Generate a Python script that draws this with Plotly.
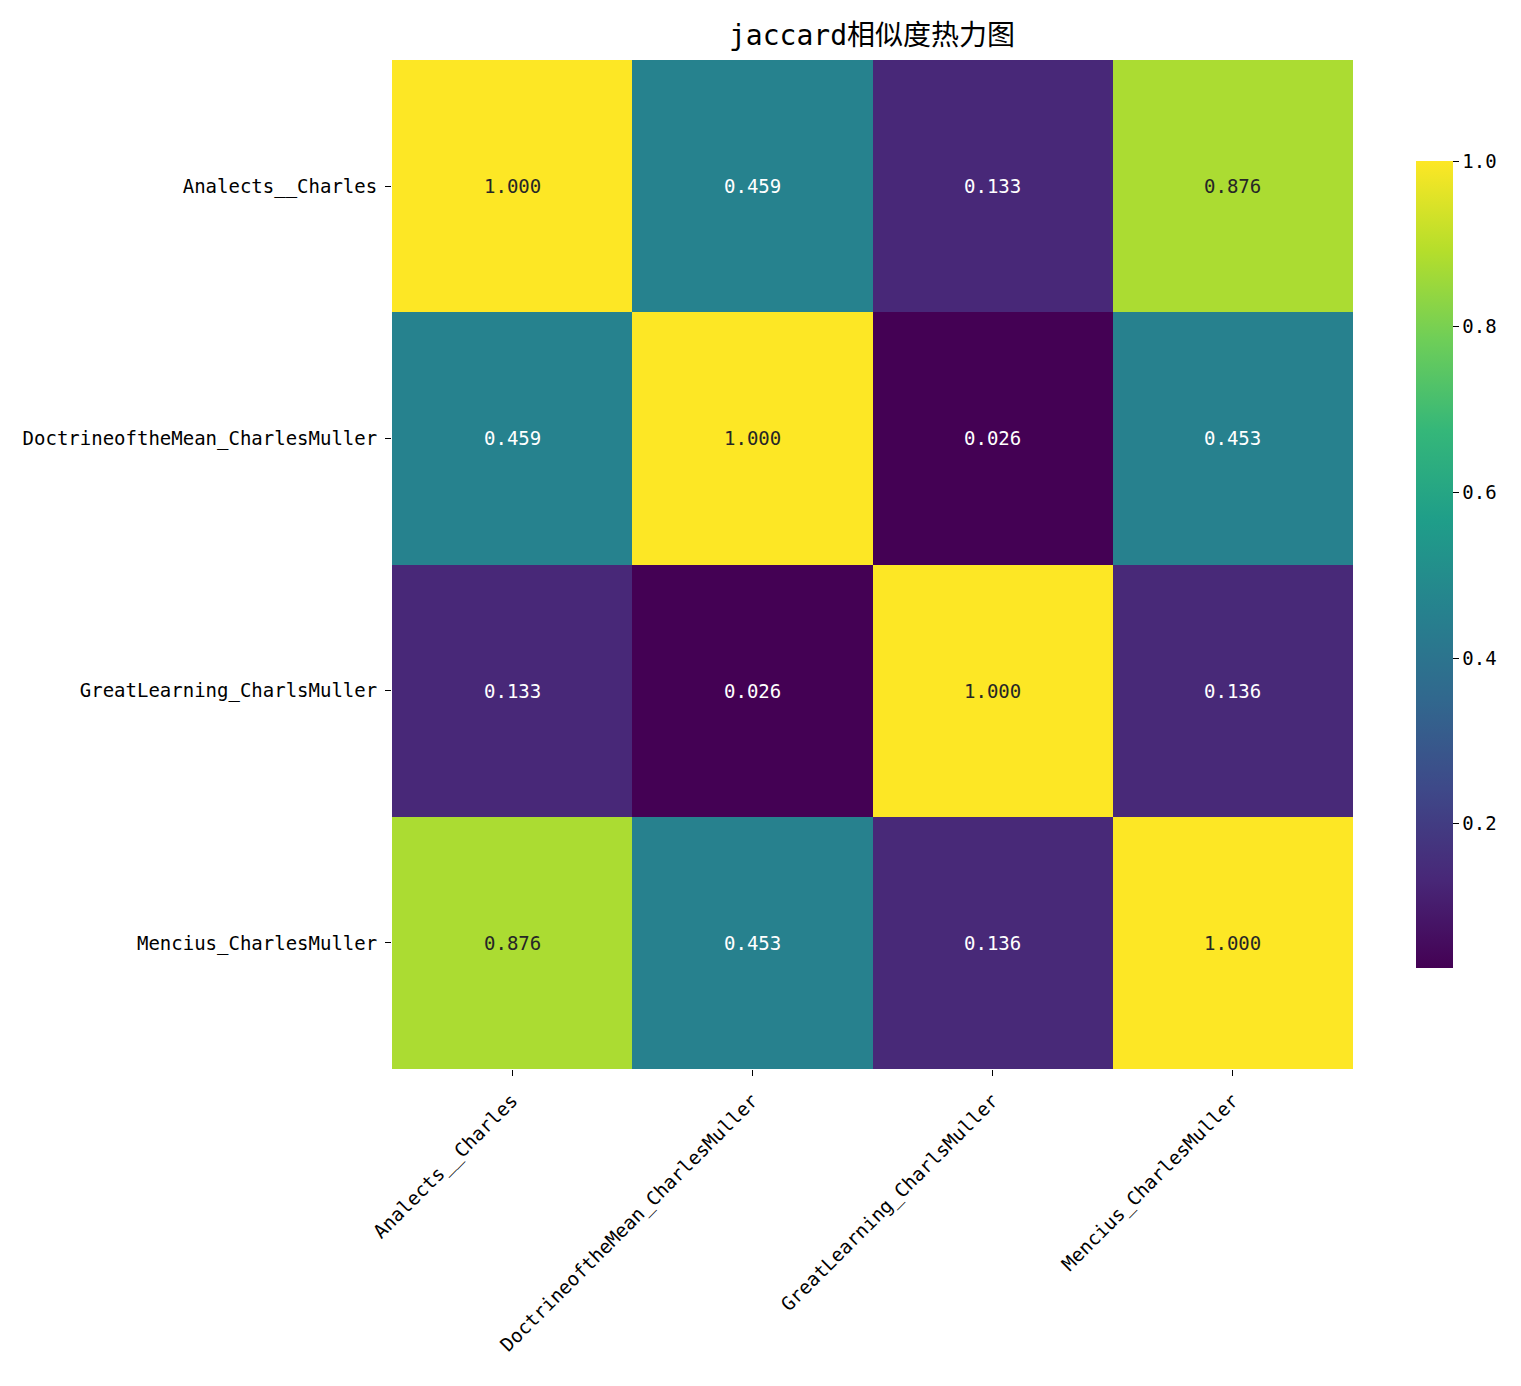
import plotly.graph_objects as go

# jaccard similarity between the four texts
names = ["Analects__Charles", "DoctrineoftheMean_CharlesMuller",
         "GreatLearning_CharlsMuller", "Mencius_CharlesMuller"]
row_analects = [1.000, 0.459, 0.133, 0.876]
row_doctrine = [0.459, 1.000, 0.026, 0.453]
row_great = [0.133, 0.026, 1.000, 0.136]
row_mencius = [0.876, 0.453, 0.136, 1.000]
z = [row_analects, row_doctrine, row_great, row_mencius]
cbar_ticks = [0.2, 0.4, 0.6, 0.8, 1.0]

font_family = "DejaVu Sans Mono, Noto Sans CJK SC"

fig = go.Figure(go.Heatmap(
    z=z, x=names, y=names,
    colorscale="Viridis",
    zmin=min(min(r) for r in z), zmax=1.0,
    xgap=0, ygap=0,
    colorbar=dict(
        x=1.0552, xanchor="left", y=0.5, yanchor="middle",
        len=0.8196, lenmode="fraction", thickness=37,
        outlinewidth=0, tickvals=cbar_ticks,
        ticktext=[f"{t:.1f}" for t in cbar_ticks],
        ticks="outside", ticklen=6, tickcolor="black",
        tickfont=dict(size=19, family=font_family, color="black"),
    ),
    hoverinfo="skip",
))

# cell labels, dark on light cells and white on dark ones
for i, row in enumerate(z):
    for j, v in enumerate(row):
        fig.add_annotation(
            x=names[j], y=names[i], text=f"{v:.3f}", showarrow=False,
            font=dict(size=19, family=font_family,
                      color="#262626" if v > 0.6 else "white"),
        )

fig.update_layout(
    width=1513, height=1378,
    margin=dict(l=384, r=168, t=52, b=317),
    paper_bgcolor="white", plot_bgcolor="white",
    title=dict(text="jaccard相似度热力图", x=864 / 1513, xanchor="center",
               y=1 - 27 / 1378, yanchor="middle",
               font=dict(size=28, family=font_family, color="black")),
    font=dict(family=font_family, color="black"),
)
fig.update_xaxes(tickangle=-45, ticks="outside", ticklen=6, tickcolor="black",
                 tickfont=dict(size=19), ticklabelstandoff=6,
                 showgrid=False, zeroline=False)
fig.update_yaxes(autorange="reversed", ticks="outside", ticklen=6,
                 tickcolor="black", tickfont=dict(size=19),
                 ticklabelstandoff=4, showgrid=False, zeroline=False)

fig.write_html("out.html")
